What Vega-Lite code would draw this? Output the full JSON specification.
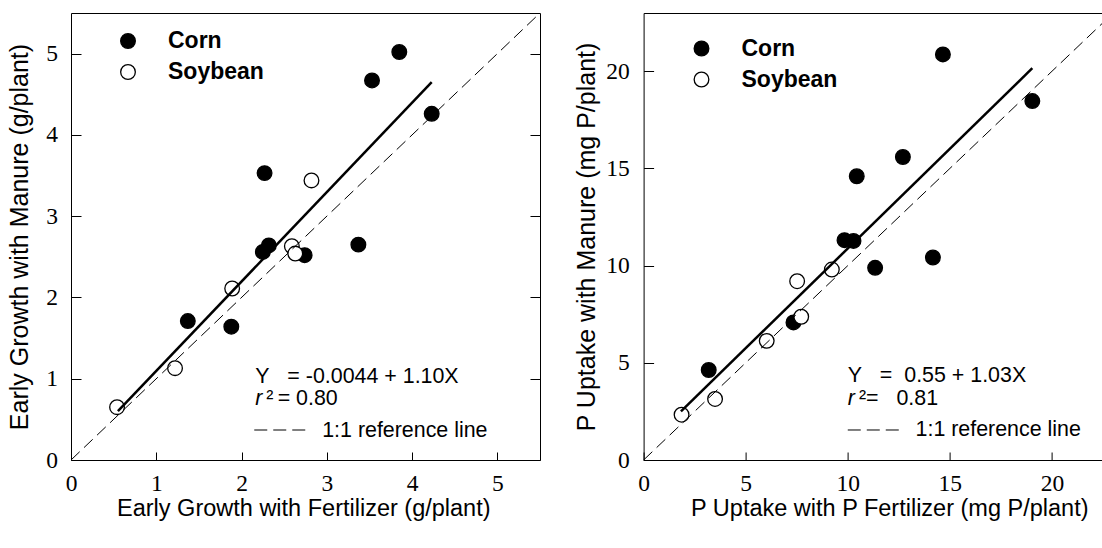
{
  "$schema": "https://vega.github.io/schema/vega-lite/v6.json",
  "background": "white",
  "padding": {"left": 7, "top": 10, "right": 0, "bottom": 0},
  "spacing": 103.6,
  "bounds": "flush",
  "config": {
    "view": {"stroke": "black", "strokeWidth": 1},
    "axis": {"domain": false, "grid": false, "tickColor": "black", "tickWidth": 1, "labelFont": "Liberation Serif", "labelFontSize": 23.5, "labelColor": "black", "labelFlush": false, "labelOverlap": false, "titleFont": "Liberation Sans", "titleFontWeight": "normal", "titleColor": "black"}
  },
  "datasets": {
    "growth": [
      {"crop": "Corn", "fert": 3.85, "manure": 5.02},
      {"crop": "Corn", "fert": 3.53, "manure": 4.67},
      {"crop": "Corn", "fert": 4.23, "manure": 4.26},
      {"crop": "Corn", "fert": 2.27, "manure": 3.53},
      {"crop": "Corn", "fert": 2.32, "manure": 2.64},
      {"crop": "Corn", "fert": 2.25, "manure": 2.56},
      {"crop": "Corn", "fert": 2.74, "manure": 2.52},
      {"crop": "Corn", "fert": 3.37, "manure": 2.65},
      {"crop": "Corn", "fert": 1.37, "manure": 1.71},
      {"crop": "Corn", "fert": 1.88, "manure": 1.64},
      {"crop": "Soybean", "fert": 2.82, "manure": 3.44},
      {"crop": "Soybean", "fert": 2.59, "manure": 2.63},
      {"crop": "Soybean", "fert": 2.63, "manure": 2.54},
      {"crop": "Soybean", "fert": 1.89, "manure": 2.11},
      {"crop": "Soybean", "fert": 1.22, "manure": 1.13},
      {"crop": "Soybean", "fert": 0.54, "manure": 0.65}
    ],
    "uptake": [
      {"crop": "Corn", "fert": 14.66, "manure": 20.87},
      {"crop": "Corn", "fert": 19.04, "manure": 18.47},
      {"crop": "Corn", "fert": 12.7, "manure": 15.59},
      {"crop": "Corn", "fert": 10.44, "manure": 14.6},
      {"crop": "Corn", "fert": 9.84, "manure": 11.31},
      {"crop": "Corn", "fert": 10.28, "manure": 11.27},
      {"crop": "Corn", "fert": 11.34, "manure": 9.89},
      {"crop": "Corn", "fert": 14.17, "manure": 10.42},
      {"crop": "Corn", "fert": 7.34, "manure": 7.08},
      {"crop": "Corn", "fert": 3.19, "manure": 4.63},
      {"crop": "Soybean", "fert": 7.52, "manure": 9.2},
      {"crop": "Soybean", "fert": 9.22, "manure": 9.8},
      {"crop": "Soybean", "fert": 7.72, "manure": 7.37},
      {"crop": "Soybean", "fert": 6.03, "manure": 6.13},
      {"crop": "Soybean", "fert": 3.5, "manure": 3.14},
      {"crop": "Soybean", "fert": 1.86, "manure": 2.33}
    ],
    "growthOneToOne": [{"fert": 0, "manure": 0}, {"fert": 5.5, "manure": 5.5}],
    "growthFit": [{"fert": 0.55, "manure": 0.6}, {"fert": 4.23, "manure": 4.65}],
    "uptakeOneToOne": [{"fert": 0, "manure": 0}, {"fert": 23, "manure": 23}],
    "uptakeFit": [{"fert": 1.83, "manure": 2.5}, {"fert": 19.04, "manure": 20.16}],
    "one": [{}]
  },
  "hconcat": [
    {
      "width": 469,
      "height": 447,
      "layer": [
        {
          "data": {"name": "growth"},
          "mark": {"type": "point", "shape": "circle", "filled": true, "stroke": "black", "strokeWidth": 1.3, "size": 215, "opacity": 1},
          "encoding": {
            "x": {"field": "fert", "type": "quantitative", "scale": {"domain": [0, 5.5], "nice": false}, "axis": {"title": "Early Growth with Fertilizer (g/plant)", "orient": "bottom", "values": [0, 1, 2, 3, 4, 5], "tickSize": -8, "labelPadding": 19.5, "titleFontSize": 23.5, "titleX": 232.3, "titleY": 55.5, "titleBaseline": "alphabetic"}},
            "y": {"field": "manure", "type": "quantitative", "scale": {"domain": [0, 5.5], "nice": false}, "axis": {"title": "Early Growth with Manure (g/plant)", "orient": "left", "values": [0, 1, 2, 3, 4, 5], "tickSize": -10, "labelPadding": 23.4, "titleFontSize": 25, "titleX": -43.4, "titleBaseline": "alphabetic"}},
            "fill": {"field": "crop", "type": "nominal", "scale": {"domain": ["Corn", "Soybean"], "range": ["black", "white"]}, "legend": {"orient": "none", "legendX": 45.5, "legendY": 16.5, "title": null, "symbolType": "circle", "symbolSize": 215, "symbolStrokeColor": "black", "symbolStrokeWidth": 1.3, "symbolOpacity": 1, "labelFont": "Liberation Sans", "labelFontWeight": "bold", "labelFontSize": 23, "labelColor": "black", "labelOffset": 28.5, "rowPadding": 7, "padding": 0}}
          }
        },
        {
          "data": {"name": "growthOneToOne"},
          "mark": {"type": "line", "color": "black", "strokeWidth": 1, "strokeDash": [12, 6]},
          "encoding": {
            "x": {"field": "fert", "type": "quantitative", "scale": {"domain": [0, 5.5], "nice": false}, "axis": null},
            "y": {"field": "manure", "type": "quantitative", "scale": {"domain": [0, 5.5], "nice": false}, "axis": {"orient": "right", "title": null, "labels": false, "values": [0, 1, 2, 3, 4, 5], "tickSize": -10}}
          }
        },
        {
          "data": {"name": "growthFit"},
          "mark": {"type": "line", "color": "black", "strokeWidth": 2.5},
          "encoding": {
            "x": {"field": "fert", "type": "quantitative", "scale": {"domain": [0, 5.5], "nice": false}, "axis": null},
            "y": {"field": "manure", "type": "quantitative", "scale": {"domain": [0, 5.5], "nice": false}, "axis": null}
          }
        },
        {
          "data": {"name": "one"},
          "mark": {"type": "text", "font": "Liberation Sans", "fontSize": 21.4, "color": "black", "align": "left", "baseline": "alphabetic"},
          "encoding": {
            "x": {"datum": 2.161, "type": "quantitative", "scale": {"domain": [0, 5.5], "nice": false}, "axis": null},
            "y": {"datum": 0.947, "type": "quantitative", "scale": {"domain": [0, 5.5], "nice": false}, "axis": null},
            "text": {"value": "Y\u00a0\u00a0\u00a0= -0.0044 + 1.10X"}
          }
        },
        {
          "data": {"name": "one"},
          "mark": {"type": "text", "font": "Liberation Sans", "fontSize": 21.4, "fontStyle": "italic", "color": "black", "align": "left", "baseline": "alphabetic"},
          "encoding": {
            "x": {"datum": 2.161, "type": "quantitative", "scale": {"domain": [0, 5.5], "nice": false}, "axis": null},
            "y": {"datum": 0.677, "type": "quantitative", "scale": {"domain": [0, 5.5], "nice": false}, "axis": null},
            "text": {"value": "r"}
          }
        },
        {
          "data": {"name": "one"},
          "mark": {"type": "text", "font": "Liberation Sans", "fontSize": 21.4, "color": "black", "align": "left", "baseline": "alphabetic"},
          "encoding": {
            "x": {"datum": 2.29, "type": "quantitative", "scale": {"domain": [0, 5.5], "nice": false}, "axis": null},
            "y": {"datum": 0.677, "type": "quantitative", "scale": {"domain": [0, 5.5], "nice": false}, "axis": null},
            "text": {"value": "\u00b2\u2009= 0.80"}
          }
        },
        {
          "data": {"name": "one"},
          "mark": {"type": "rule", "color": "black", "strokeWidth": 1, "strokeDash": [13, 6]},
          "encoding": {
            "x": {"datum": 2.149, "type": "quantitative", "scale": {"domain": [0, 5.5], "nice": false}, "axis": null},
            "x2": {"datum": 2.755},
            "y": {"datum": 0.369, "type": "quantitative", "scale": {"domain": [0, 5.5], "nice": false}, "axis": null}
          }
        },
        {
          "data": {"name": "one"},
          "mark": {"type": "text", "font": "Liberation Sans", "fontSize": 21.4, "color": "black", "align": "left", "baseline": "alphabetic"},
          "encoding": {
            "x": {"datum": 2.946, "type": "quantitative", "scale": {"domain": [0, 5.5], "nice": false}, "axis": null},
            "y": {"datum": 0.287, "type": "quantitative", "scale": {"domain": [0, 5.5], "nice": false}, "axis": null},
            "text": {"value": "1:1 reference line"}
          }
        }
      ],
      "resolve": {"axis": {"x": "independent", "y": "independent"}}
    },
    {
      "width": 490,
      "height": 447,
      "layer": [
        {
          "data": {"name": "uptake"},
          "mark": {"type": "point", "shape": "circle", "filled": true, "stroke": "black", "strokeWidth": 1.3, "size": 215, "opacity": 1},
          "encoding": {
            "x": {"field": "fert", "type": "quantitative", "scale": {"domain": [0, 24], "nice": false}, "axis": {"title": "P Uptake with P Fertilizer (mg P/plant)", "orient": "bottom", "values": [0, 5, 10, 15, 20], "tickSize": -8, "labelPadding": 19.5, "titleFontSize": 23.5, "titleX": 245.7, "titleY": 55.5, "titleBaseline": "alphabetic"}},
            "y": {"field": "manure", "type": "quantitative", "scale": {"domain": [0, 23], "nice": false}, "axis": {"title": "P Uptake with Manure (mg P/plant)", "orient": "left", "values": [0, 5, 10, 15, 20], "tickSize": -10, "labelPadding": 24.3, "titleFontSize": 25, "titleX": -49.3, "titleBaseline": "alphabetic"}},
            "fill": {"field": "crop", "type": "nominal", "scale": {"domain": ["Corn", "Soybean"], "range": ["black", "white"]}, "legend": {"orient": "none", "legendX": 46.4, "legendY": 24, "title": null, "symbolType": "circle", "symbolSize": 215, "symbolStrokeColor": "black", "symbolStrokeWidth": 1.3, "symbolOpacity": 1, "labelFont": "Liberation Sans", "labelFontWeight": "bold", "labelFontSize": 23, "labelColor": "black", "labelOffset": 28.5, "rowPadding": 7, "padding": 0}}
          }
        },
        {
          "data": {"name": "uptakeOneToOne"},
          "mark": {"type": "line", "color": "black", "strokeWidth": 1, "strokeDash": [12, 6]},
          "encoding": {
            "x": {"field": "fert", "type": "quantitative", "scale": {"domain": [0, 24], "nice": false}, "axis": null},
            "y": {"field": "manure", "type": "quantitative", "scale": {"domain": [0, 23], "nice": false}, "axis": null}
          }
        },
        {
          "data": {"name": "uptakeFit"},
          "mark": {"type": "line", "color": "black", "strokeWidth": 2.5},
          "encoding": {
            "x": {"field": "fert", "type": "quantitative", "scale": {"domain": [0, 24], "nice": false}, "axis": null},
            "y": {"field": "manure", "type": "quantitative", "scale": {"domain": [0, 23], "nice": false}, "axis": null}
          }
        },
        {
          "data": {"name": "one"},
          "mark": {"type": "text", "font": "Liberation Sans", "fontSize": 21.4, "color": "black", "align": "left", "baseline": "alphabetic"},
          "encoding": {
            "x": {"datum": 10.0, "type": "quantitative", "scale": {"domain": [0, 24], "nice": false}, "axis": null},
            "y": {"datum": 4.03, "type": "quantitative", "scale": {"domain": [0, 23], "nice": false}, "axis": null},
            "text": {"value": "Y\u00a0\u00a0\u00a0=\u00a0\u00a00.55 + 1.03X"}
          }
        },
        {
          "data": {"name": "one"},
          "mark": {"type": "text", "font": "Liberation Sans", "fontSize": 21.4, "fontStyle": "italic", "color": "black", "align": "left", "baseline": "alphabetic"},
          "encoding": {
            "x": {"datum": 10.0, "type": "quantitative", "scale": {"domain": [0, 24], "nice": false}, "axis": null},
            "y": {"datum": 2.83, "type": "quantitative", "scale": {"domain": [0, 23], "nice": false}, "axis": null},
            "text": {"value": "r"}
          }
        },
        {
          "data": {"name": "one"},
          "mark": {"type": "text", "font": "Liberation Sans", "fontSize": 21.4, "color": "black", "align": "left", "baseline": "alphabetic"},
          "encoding": {
            "x": {"datum": 10.55, "type": "quantitative", "scale": {"domain": [0, 24], "nice": false}, "axis": null},
            "y": {"datum": 2.83, "type": "quantitative", "scale": {"domain": [0, 23], "nice": false}, "axis": null},
            "text": {"value": "\u00b2=\u00a0\u00a0\u00a00.81"}
          }
        },
        {
          "data": {"name": "one"},
          "mark": {"type": "rule", "color": "black", "strokeWidth": 1, "strokeDash": [13, 6]},
          "encoding": {
            "x": {"datum": 10.0, "type": "quantitative", "scale": {"domain": [0, 24], "nice": false}, "axis": null},
            "x2": {"datum": 12.53},
            "y": {"datum": 1.544, "type": "quantitative", "scale": {"domain": [0, 23], "nice": false}, "axis": null}
          }
        },
        {
          "data": {"name": "one"},
          "mark": {"type": "text", "font": "Liberation Sans", "fontSize": 21.4, "color": "black", "align": "left", "baseline": "alphabetic"},
          "encoding": {
            "x": {"datum": 13.32, "type": "quantitative", "scale": {"domain": [0, 24], "nice": false}, "axis": null},
            "y": {"datum": 1.235, "type": "quantitative", "scale": {"domain": [0, 23], "nice": false}, "axis": null},
            "text": {"value": "1:1 reference line"}
          }
        }
      ],
      "resolve": {"axis": {"x": "independent", "y": "independent"}}
    }
  ],
  "resolve": {"scale": {"x": "independent", "y": "independent", "fill": "independent"}, "legend": {"fill": "independent"}}
}
